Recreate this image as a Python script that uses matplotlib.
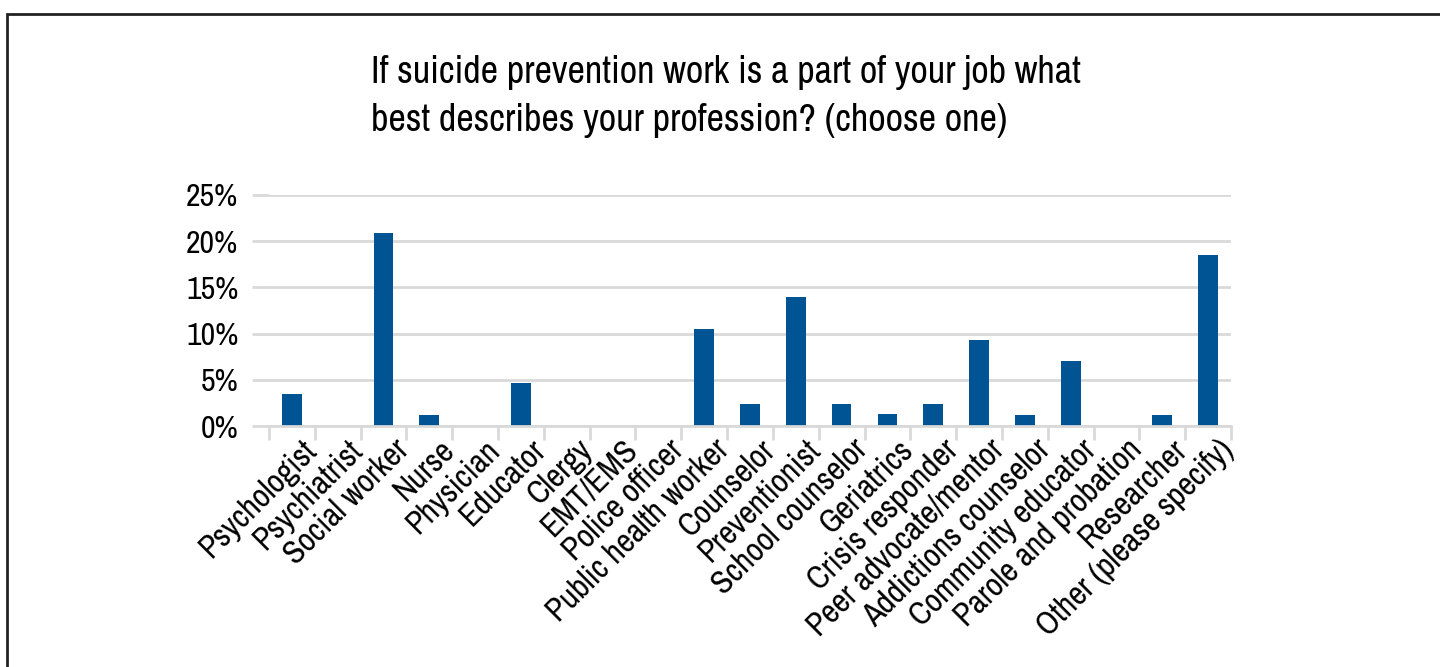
import matplotlib.pyplot as plt
from matplotlib.patches import Rectangle
from matplotlib.transforms import ScaledTranslation
import numpy as np

plt.rcParams['font.family'] = ['Archivo Narrow', 'Liberation Sans', 'DejaVu Sans']

professions = [
    'Psychologist', 'Psychiatrist', 'Social worker', 'Nurse', 'Physician',
    'Educator', 'Clergy', 'EMT/EMS', 'Police officer', 'Public health worker',
    'Counselor', 'Preventionist', 'School counselor', 'Geriatrics',
    'Crisis responder', 'Peer advocate/mentor', 'Addictions counselor',
    'Community educator', 'Parole and probation', 'Researcher',
    'Other (please specify)',
]
share = [3.5, 0, 20.9, 1.2, 0, 4.7, 0, 0, 0, 10.5, 2.4, 14.0, 2.4, 1.3,
         2.4, 9.3, 1.2, 7.0, 0, 1.2, 18.5]
pct_ticks = [0, 5, 10, 15, 20, 25]

grid_gray = '#d9d9d9'
bar_blue = '#005493'

fig = plt.figure(figsize=(14.4, 6.67), dpi=100)
ax = fig.add_axes([269 / 1440, 241 / 667, (1231 - 269) / 1440, (426 - 195) / 667])

x = np.arange(len(professions))
ax.bar(x, share, width=0.43, color=bar_blue, zorder=3)

ax.set_xlim(-0.5, len(professions) - 0.5)
ax.set_ylim(0, 25)
ax.set_yticks(pct_ticks)
ax.set_yticklabels([f'{v}%' for v in pct_ticks])
ax.yaxis.grid(True, color=grid_gray, linewidth=2, zorder=0)
ax.tick_params(axis='y', length=12, width=2, color=grid_gray, pad=10, labelsize=23)

# category labels at centres, separator ticks between categories
ax.set_xticks(x)
ax.set_xticklabels(professions, rotation=45, ha='right', va='top',
                   rotation_mode='anchor', fontsize=23.5)
ax.set_xticks(np.arange(-0.5, len(professions)), minor=True)
ax.tick_params(axis='x', which='major', length=0, pad=6)
ax.tick_params(axis='x', which='minor', length=10, width=2, color=grid_gray)
shift = ScaledTranslation(10 / 100, 0, fig.dpi_scale_trans)
for lbl in ax.get_xticklabels():
    lbl.set_transform(lbl.get_transform() + shift)

for side in ['top', 'right', 'left']:
    ax.spines[side].set_visible(False)
ax.spines['bottom'].set_color(grid_gray)
ax.spines['bottom'].set_linewidth(2)
ax.spines['bottom'].set_zorder(4)

fig.text(371 / 1440, 1 - 55 / 667,
         'If suicide prevention work is a part of your job what\n'
         'best describes your profession? (choose one)',
         fontsize=27.5, ha='left', va='top', linespacing=1.45)

# outer frame
fig.patches.append(Rectangle((7 / 1440, -0.05), 1.0, 1 - 14 / 667 + 0.05,
                             transform=fig.transFigure, fill=False,
                             edgecolor='#222222', linewidth=2))

fig.savefig('out.png', dpi=100)
